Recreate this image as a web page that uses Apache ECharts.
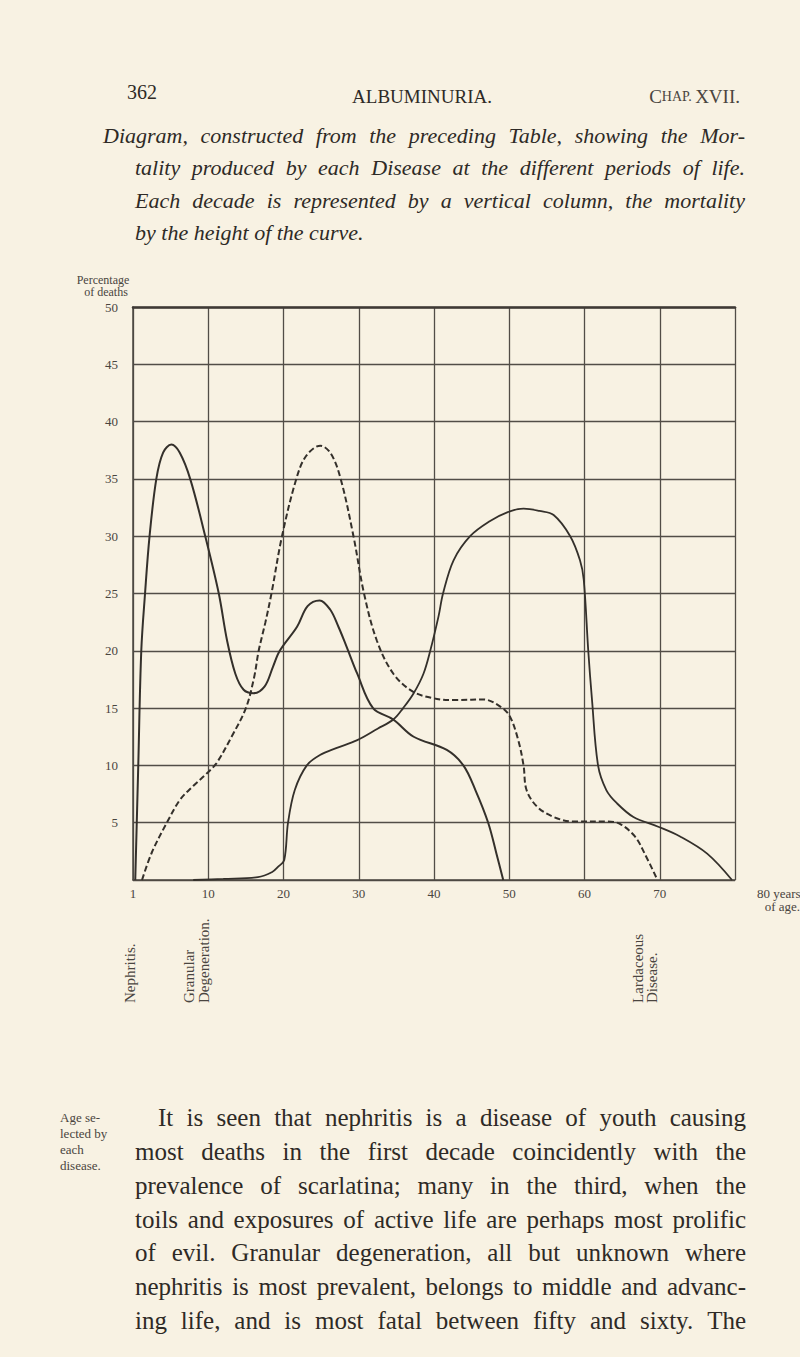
<!DOCTYPE html>
<html><head><meta charset="utf-8">
<script src="https://cdn.jsdelivr.net/npm/echarts@6/dist/echarts.min.js"></script>
<style>html,body{margin:0;padding:0;background:#f8f2e3;}#c{width:800px;height:1357px;}</style>
</head><body><div id="c"></div>
<script>
// ---- axis ticks (x is position within the decade columns; 0 = age 1) ----
const ageTicks = [0, 10, 20, 30, 40, 50, 60, 70, 80];
const ageTickLabels = ['1', '10', '20', '30', '40', '50', '60', '70', ''];
const pctTicks = [0, 5, 10, 15, 20, 25, 30, 35, 40, 45, 50];
const pctTickLabels = ['', '5', '10', '15', '20', '25', '30', '35', '40', '45', '50'];

// ---- Nephritis (solid) ----
const nephritisX = [0.3, 0.7, 1.1, 1.6, 2.2, 3.1, 4.0, 5.1, 6.2, 7.6, 9.6, 11.4, 12.5, 13.6, 14.7, 16.0, 17.5, 18.6, 19.5, 21.8, 23.2, 24.8, 26.2, 27.3, 28.3, 29.8, 31.9, 34.6, 37.3, 41.7, 43.9, 45.5, 47.2, 48.3, 49.2];
const nephritisY = [0, 10, 20, 25, 30, 35, 37.3, 38, 37.3, 35, 30, 25, 20.9, 18, 16.6, 16.3, 16.9, 18.6, 20, 22.1, 23.9, 24.4, 23.6, 22.1, 20.5, 18, 15, 14, 12.5, 11.35, 10, 7.85, 5, 2.3, 0];

// ---- Dashed curve ----
const dashedX = [1.2, 2.5, 4.5, 6.25, 8.0, 9.8, 11.1, 13.1, 15.0, 16.1, 16.7, 17.6, 18.4, 19.8, 21.7, 23.0, 24.9, 26.3, 27.6, 29.3, 30.7, 32.4, 34.6, 37.3, 40.4, 42.6, 46.6, 49.0, 50.1, 51.2, 51.9, 52.3, 53.7, 55.9, 58.5, 63.0, 64.7, 66.7, 68.0, 69.7];
const dashedY = [0, 2.4, 5, 7.0, 8.2, 9.3, 10.2, 12.5, 15, 17.7, 20, 22.5, 25, 30, 35, 37, 37.9, 37.2, 35, 30, 25, 20.9, 18, 16.4, 15.8, 15.7, 15.75, 15.05, 14.25, 12.2, 10, 7.85, 6.4, 5.5, 5.1, 5.1, 4.9, 3.8, 2.3, 0];

// ---- Granular degeneration (solid) ----
const granularX = [8, 12, 16.6, 18.5, 19.3, 20.1, 20.6, 21.5, 23.1, 24.85, 27, 29.8, 32.5, 34.6, 35.9, 37.3, 38.6, 39.5, 40.6, 41.2, 42.6, 44.8, 47.4, 49.8, 51.9, 54, 55.9, 58.1, 59.4, 59.9, 60.5, 61.0, 61.8, 62.9, 64.3, 66.5, 69.8, 72.7, 76.3, 79.6];
const granularY = [0, 0.1, 0.25, 0.7, 1.16, 1.75, 5, 7.85, 10, 10.9, 11.5, 12.2, 13.2, 14, 15, 16.3, 18, 20, 23, 25, 27.9, 30, 31.3, 32.1, 32.4, 32.2, 31.85, 30, 27.9, 26.2, 20, 15.7, 10, 7.85, 6.7, 5.5, 4.65, 3.8, 2.3, 0];

// ---- texts ----
const captionLines = [
  'Diagram, constructed from the preceding Table, showing the Mor-',
  'tality produced by each Disease at the different periods of life.',
  'Each decade is represented by a vertical column, the mortality',
  'by the height of the curve.'
];
const bodyLines = [
  'It is seen that nephritis is a disease of youth causing',
  'most deaths in the first decade coincidently with the',
  'prevalence of scarlatina; many in the third, when the',
  'toils and exposures of active life are perhaps most prolific',
  'of evil. Granular degeneration, all but unknown where',
  'nephritis is most prevalent, belongs to middle and advanc-',
  'ing life, and is most fatal between fifty and sixty. The'
];
const marginLines = ['Age se-', 'lected by', 'each', 'disease.'];

const INK = '#2e2a26';
const GREY = '#4a4540';
const FAM = 'Liberation Serif';
const pairs = (xs, ys) => xs.map((x, i) => [x, ys[i]]);
const txt = (t, size, fill, extra) => Object.assign({ text: t, fontFamily: FAM, fontSize: size, fill: fill }, extra || {});

const mctx = document.createElement('canvas').getContext('2d');
function justified(line, x0, x1, yMid, size, italic, justify) {
  mctx.font = (italic ? 'italic ' : '') + size + 'px "' + FAM + '"';
  const words = line.split(' ');
  const widths = words.map(w => mctx.measureText(w).width);
  const total = widths.reduce((a, b) => a + b, 0);
  let gap = mctx.measureText(' ').width;
  if (justify && words.length > 1) gap = (x1 - x0 - total) / (words.length - 1);
  const out = [];
  let x = x0;
  words.forEach((w, i) => {
    out.push({ type: 'text', x: x, y: yMid, style: txt(w, size, INK, { fontStyle: italic ? 'italic' : 'normal', textVerticalAlign: 'middle' }) });
    x += widths[i] + gap;
  });
  return out;
}

const graphic = [];
// header
graphic.push({ type: 'text', x: 127, y: 92, style: txt('362', 20, INK, { textVerticalAlign: 'middle' }) });
graphic.push({ type: 'text', x: 422, y: 96, style: txt('ALBUMINURIA.', 19, INK, { textAlign: 'center', textVerticalAlign: 'middle' }) });
graphic.push({ type: 'text', x: 740, y: 96, style: {
  text: '{a|C}{b|HAP.} {a|XVII.}', textAlign: 'right', textVerticalAlign: 'middle',
  rich: { a: { fontFamily: FAM, fontSize: 19, fill: '#4a4540' }, b: { fontFamily: FAM, fontSize: 14, fill: '#4a4540' } } } });
// caption
const capY = [135, 167, 200, 232];
captionLines.forEach((l, i) => {
  const x0 = i === 0 ? 103 : 135;
  graphic.push(...justified(l, x0, 745, capY[i], 22, true, i < 3));
});
// axis titles
graphic.push({ type: 'text', x: 103, y: 280, style: txt('Percentage', 12, GREY, { textAlign: 'center', textVerticalAlign: 'middle' }) });
graphic.push({ type: 'text', x: 106, y: 292, style: txt('of deaths', 12, GREY, { textAlign: 'center', textVerticalAlign: 'middle' }) });
graphic.push({ type: 'text', x: 757, y: 893, style: txt('80 years', 13, GREY, { textVerticalAlign: 'middle' }) });
graphic.push({ type: 'text', x: 800, y: 906, style: txt('of age.', 13, GREY, { textAlign: 'right', textVerticalAlign: 'middle' }) });
// rotated disease labels
const rot = (t, x, y) => ({ type: 'text', x: x, y: y, rotation: Math.PI / 2,
  style: txt(t, 15, GREY, { textAlign: 'left', textVerticalAlign: 'middle' }) });
graphic.push(rot('Nephritis.', 130, 1003));
graphic.push(rot('Granular', 189, 1003));
graphic.push(rot('Degeneration.', 204, 1003));
graphic.push(rot('Lardaceous', 638, 1003));
graphic.push(rot('Disease.', 652, 1003));
// margin note
const mY = [1117, 1133, 1149, 1165];
marginLines.forEach((l, i) => graphic.push({ type: 'text', x: 60, y: mY[i], style: txt(l, 13, GREY, { textVerticalAlign: 'middle' }) }));
// body
const bY = [1117, 1151, 1185, 1219, 1252, 1286, 1320];
bodyLines.forEach((l, i) => graphic.push(...justified(l, i === 0 ? 158 : 135, 746, bY[i], 25, false, true)));

const chart = echarts.init(document.getElementById('c'), null, { renderer: 'svg' });
chart.setOption({
  backgroundColor: '#f8f2e3',
  animation: false,
  grid: { left: 133, right: 65, top: 307, bottom: 477, containLabel: false },
  xAxis: [{
    type: 'value', min: 0, max: 80, interval: 10,
    axisLine: { show: true, lineStyle: { color: '#4d4842', width: 1.5 } },
    axisTick: { show: false },
    splitLine: { show: true, lineStyle: { color: '#524d47', width: 1.3 } },
    axisLabel: { color: GREY, fontFamily: FAM, fontSize: 13, margin: 7,
      formatter: v => ageTickLabels[ageTicks.indexOf(v)] }
  }, {
    type: 'value', position: 'top', min: 0, max: 80, interval: 10,
    axisLine: { show: true, lineStyle: { color: '#3f3a35', width: 2.5 } },
    axisTick: { show: false }, axisLabel: { show: false }, splitLine: { show: false }
  }],
  yAxis: {
    type: 'value', min: 0, max: 50, interval: 5,
    axisLine: { show: true, lineStyle: { color: '#4d4842', width: 1.5 } },
    axisTick: { show: false },
    splitLine: { show: true, lineStyle: { color: '#524d47', width: 1.3 } },
    axisLabel: { color: GREY, fontFamily: FAM, fontSize: 13, margin: 15,
      formatter: v => pctTickLabels[pctTicks.indexOf(v)] }
  },
  series: [
    { name: 'Nephritis', type: 'line', data: pairs(nephritisX, nephritisY), smooth: 0.35, symbol: 'none',
      lineStyle: { color: '#34302b', width: 2 } },
    { name: 'Dashed', type: 'line', data: pairs(dashedX, dashedY), smooth: 0.35, symbol: 'none',
      lineStyle: { color: '#34302b', width: 2, type: [6, 3] } },
    { name: 'Granular Degeneration', type: 'line', data: pairs(granularX, granularY), smooth: 0.35, symbol: 'none',
      lineStyle: { color: '#34302b', width: 1.8 } }
  ],
  graphic: graphic
});
</script></body></html>
